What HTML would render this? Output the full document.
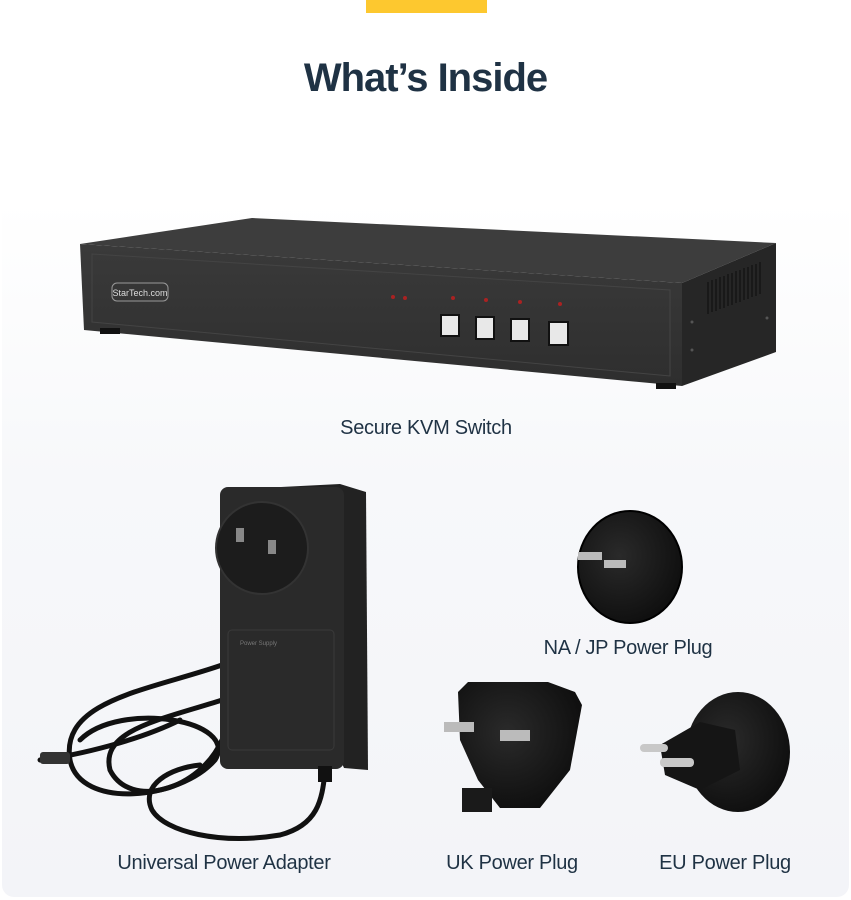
<!DOCTYPE html>
<html><head><meta charset="utf-8"><style>
html,body{margin:0;padding:0;background:#fff;}
body{width:851px;height:900px;position:relative;overflow:hidden;font-family:"Liberation Sans",sans-serif;}
.bar{position:absolute;left:366px;top:0;width:121px;height:13px;background:#fdc82f;}
.panel{position:absolute;left:2px;top:200px;width:847px;height:697px;border-radius:12px;background:linear-gradient(#ffffff 0%,#f7f8fa 40%,#f3f4f8 100%);}
h1{position:absolute;left:0;width:851px;top:55px;margin:0;text-align:center;font-size:40px;font-weight:bold;color:#1f3244;letter-spacing:-1px;line-height:46px;}
.lbl{position:absolute;font-size:20px;color:#1f3244;white-space:nowrap;transform:translateX(-50%);letter-spacing:-0.3px;line-height:24px;}
svg{position:absolute;left:0;top:0;}
</style></head><body>
<div class="bar"></div>
<div class="panel"></div>
<h1>What’s Inside</h1>
<svg width="851" height="900" viewBox="0 0 851 900">
<defs>
<linearGradient id="fr" x1="0" y1="0" x2="0" y2="1"><stop offset="0" stop-color="#3a3a3a"/><stop offset="1" stop-color="#2e2e2e"/></linearGradient>
<radialGradient id="pl" cx="0.4" cy="0.4" r="0.7"><stop offset="0" stop-color="#2a2a2a"/><stop offset="1" stop-color="#0c0c0c"/></radialGradient>
</defs>
<!-- KVM -->
<polygon points="80,244 252,218 776,243 682,283" fill="#3d3d3d"/>
<polygon points="80,244 682,283 682,386 84,330" fill="url(#fr)"/>
<polygon points="682,283 776,243 776,352 682,386" fill="#262626"/>
<polygon points="92,254 670,290 670,376 92,322" fill="none" stroke="#444" stroke-width="1"/>
<g stroke="#111" stroke-width="1.2">
<line x1="708" y1="282" x2="708" y2="314"/><line x1="712" y1="280" x2="712" y2="312"/><line x1="716" y1="279" x2="716" y2="311"/><line x1="720" y1="277" x2="720" y2="309"/><line x1="724" y1="276" x2="724" y2="308"/><line x1="728" y1="274" x2="728" y2="306"/><line x1="732" y1="273" x2="732" y2="305"/><line x1="736" y1="271" x2="736" y2="303"/><line x1="740" y1="270" x2="740" y2="302"/><line x1="744" y1="268" x2="744" y2="300"/><line x1="748" y1="267" x2="748" y2="299"/><line x1="752" y1="265" x2="752" y2="297"/><line x1="756" y1="264" x2="756" y2="296"/><line x1="760" y1="262" x2="760" y2="294"/>
</g>
<circle cx="692" cy="322" r="1.5" fill="#555"/><circle cx="692" cy="350" r="1.5" fill="#555"/><circle cx="767" cy="318" r="1.5" fill="#555"/>
<rect x="100" y="328" width="20" height="6" fill="#111"/>
<rect x="656" y="383" width="20" height="6" fill="#111"/>
<rect x="112" y="283" width="56" height="18" rx="5" fill="none" stroke="#999" stroke-width="1"/>
<text x="140" y="296" font-size="9" fill="#ddd" text-anchor="middle" font-family="Liberation Sans">StarTech.com</text>
<circle cx="393" cy="297" r="2" fill="#a22"/><circle cx="405" cy="298" r="2" fill="#a22"/>
<g fill="#e8e8e8" stroke="#111" stroke-width="2">
<rect x="441" y="315" width="18" height="21"/><rect x="476" y="317" width="18" height="22"/>
<rect x="511" y="319" width="18" height="22"/><rect x="549" y="322" width="19" height="23"/>
</g>
<g fill="#a22"><circle cx="453" cy="298" r="2"/><circle cx="486" cy="300" r="2"/><circle cx="520" cy="302" r="2"/><circle cx="560" cy="304" r="2"/></g>
<!-- cable -->
<g fill="none" stroke="#111" stroke-width="5" stroke-linecap="round">
<path d="M222,665 C150,690 60,700 70,760 C80,810 180,800 215,760 C240,720 120,700 80,740"/>
<path d="M222,700 C160,720 100,730 110,770 C130,810 200,790 222,740"/>
<path d="M40,760 C80,755 140,740 180,720"/>
<path d="M325,772 C322,800 318,825 280,835 C220,845 165,832 152,810 C140,785 170,768 200,765"/>
</g>
<rect x="40" y="752" width="30" height="12" rx="3" fill="#333"/>
<!-- adapter -->
<polygon points="222,490 340,484 366,492 368,770 344,768" fill="#222"/>
<rect x="220" y="487" width="124" height="282" rx="8" fill="#2a2a2a"/>
<circle cx="262" cy="548" r="46" fill="#1c1c1c" stroke="#333" stroke-width="2"/>
<rect x="236" y="528" width="8" height="14" fill="#888"/><rect x="268" y="540" width="8" height="14" fill="#888"/>
<rect x="228" y="630" width="106" height="120" rx="4" fill="none" stroke="#3a3a3a"/>
<text x="240" y="645" font-size="6" fill="#777">Power Supply</text>
<rect x="318" y="766" width="14" height="16" fill="#111"/>
<!-- NA plug -->
<ellipse cx="630" cy="567" rx="52" ry="56" fill="url(#pl)" stroke="#000" stroke-width="2"/>
<rect x="578" y="552" width="24" height="8" fill="#bbb"/><rect x="604" y="560" width="22" height="8" fill="#bbb"/>
<!-- UK plug -->
<path d="M458,692 L468,682 L548,682 L575,692 L582,705 L570,770 L540,808 L500,808 L478,780 L460,740 Z" fill="url(#pl)"/>
<rect x="444" y="722" width="30" height="10" fill="#bbb"/><rect x="500" y="730" width="30" height="11" fill="#bbb"/>
<rect x="462" y="788" width="30" height="24" fill="#1a1a1a"/>
<!-- EU plug -->
<ellipse cx="738" cy="752" rx="52" ry="60" fill="url(#pl)"/>
<path d="M660,745 L700,722 L735,730 L740,770 L700,790 L665,775 Z" fill="#151515"/>
<rect x="640" y="744" width="28" height="8" rx="4" fill="#c8c8c8"/><rect x="660" y="758" width="34" height="9" rx="4" fill="#c8c8c8"/>
</svg>
<div class="lbl" style="left:426px;top:416px;">Secure KVM Switch</div>
<div class="lbl" style="left:628px;top:636px;">NA / JP Power Plug</div>
<div class="lbl" style="left:224px;top:851px;">Universal Power Adapter</div>
<div class="lbl" style="left:512px;top:851px;">UK Power Plug</div>
<div class="lbl" style="left:725px;top:851px;">EU Power Plug</div>
</body></html>
